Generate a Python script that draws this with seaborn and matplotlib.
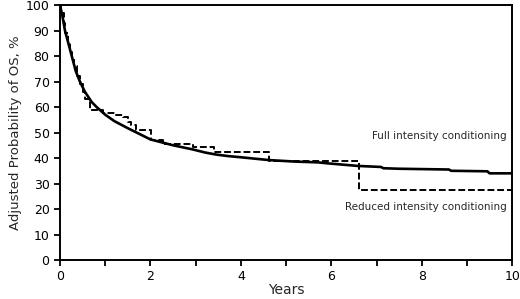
import pandas as pd
import seaborn as sns
import matplotlib.pyplot as plt
from matplotlib.ticker import MultipleLocator

# Full intensity conditioning (solid)
full_years = [0, 0.05, 0.11, 0.2, 0.26, 0.35, 0.44, 0.55, 0.7, 0.81, 1.0, 1.2, 1.5,
              1.75, 2.0, 2.5, 2.93, 3.2, 3.44, 3.7, 4.0, 4.62, 5.2, 5.71, 5.93, 6.59,
              7.1, 7.15, 7.5, 8.6, 8.65, 9.45, 9.5, 10.0]
full_os = [100, 96, 90, 84, 80, 74, 70, 66, 62, 60, 57, 54.5, 51.7,
           49.5, 47.3, 45, 43.4, 42.2, 41.4, 40.8, 40.3, 39.2, 38.6, 38.3, 37.9, 36.9,
           36.5, 36.0, 35.8, 35.5, 35.0, 34.8, 34.0, 34.0]

# Reduced intensity conditioning (dashed, step)
red_years = [0, 0.03, 0.08, 0.12, 0.18, 0.22, 0.27, 0.32, 0.38, 0.44, 0.5, 0.56,
             0.66, 0.95, 1.21, 1.39, 1.5, 1.58, 1.68, 2.01, 2.27, 2.93, 3.41, 4.62,
             6.62, 10.0]
red_os = [100, 97, 93, 89, 85, 82, 79, 76, 72, 69, 66, 63,
          58.8, 57.8, 56.9, 56.0, 54.2, 53, 51.0, 47, 45.7, 44.4, 42.5, 38.9,
          27.5, 27.5]

df_full = pd.DataFrame({'Years': full_years, 'OS': full_os})
df_red = pd.DataFrame({'Years': red_years, 'OS': red_os})

sns.set_style('ticks')
plt.rcParams['font.family'] = ['DejaVu Sans']

fig = plt.figure(figsize=(5.2, 2.99), dpi=100)
ax = fig.add_axes([0.1154, 0.1304, 0.8696, 0.8526])

sns.lineplot(data=df_red, x='Years', y='OS', ax=ax, color='black', lw=1.4,
             linestyle=(0, (3.5, 1.5)), drawstyle='steps-post',
             sort=False, estimator=None)
sns.lineplot(data=df_full, x='Years', y='OS', ax=ax, color='black', lw=1.9,
             sort=False, estimator=None)

ax.set_xlim(0, 10)
ax.set_ylim(0, 100)
ax.xaxis.set_major_locator(MultipleLocator(2))
ax.xaxis.set_minor_locator(MultipleLocator(1))
ax.yaxis.set_major_locator(MultipleLocator(10))
ax.tick_params(axis='both', which='both', direction='out', length=4, width=1.3,
               labelsize=9, colors='black')
ax.tick_params(axis='x', pad=3)
for s in ax.spines.values():
    s.set_visible(True)
    s.set_linewidth(1.4)
    s.set_color('black')

ax.set_xlabel('Years', fontsize=10, labelpad=0)
ax.set_ylabel('Adjusted Probability of OS, %', fontsize=9.5, labelpad=3)

ax.text(9.88, 48.6, 'Full intensity conditioning', ha='right', va='center', fontsize=7.5)
ax.text(9.88, 20.8, 'Reduced intensity conditioning', ha='right', va='center', fontsize=7.5)

fig.savefig('out.png', dpi=100)
